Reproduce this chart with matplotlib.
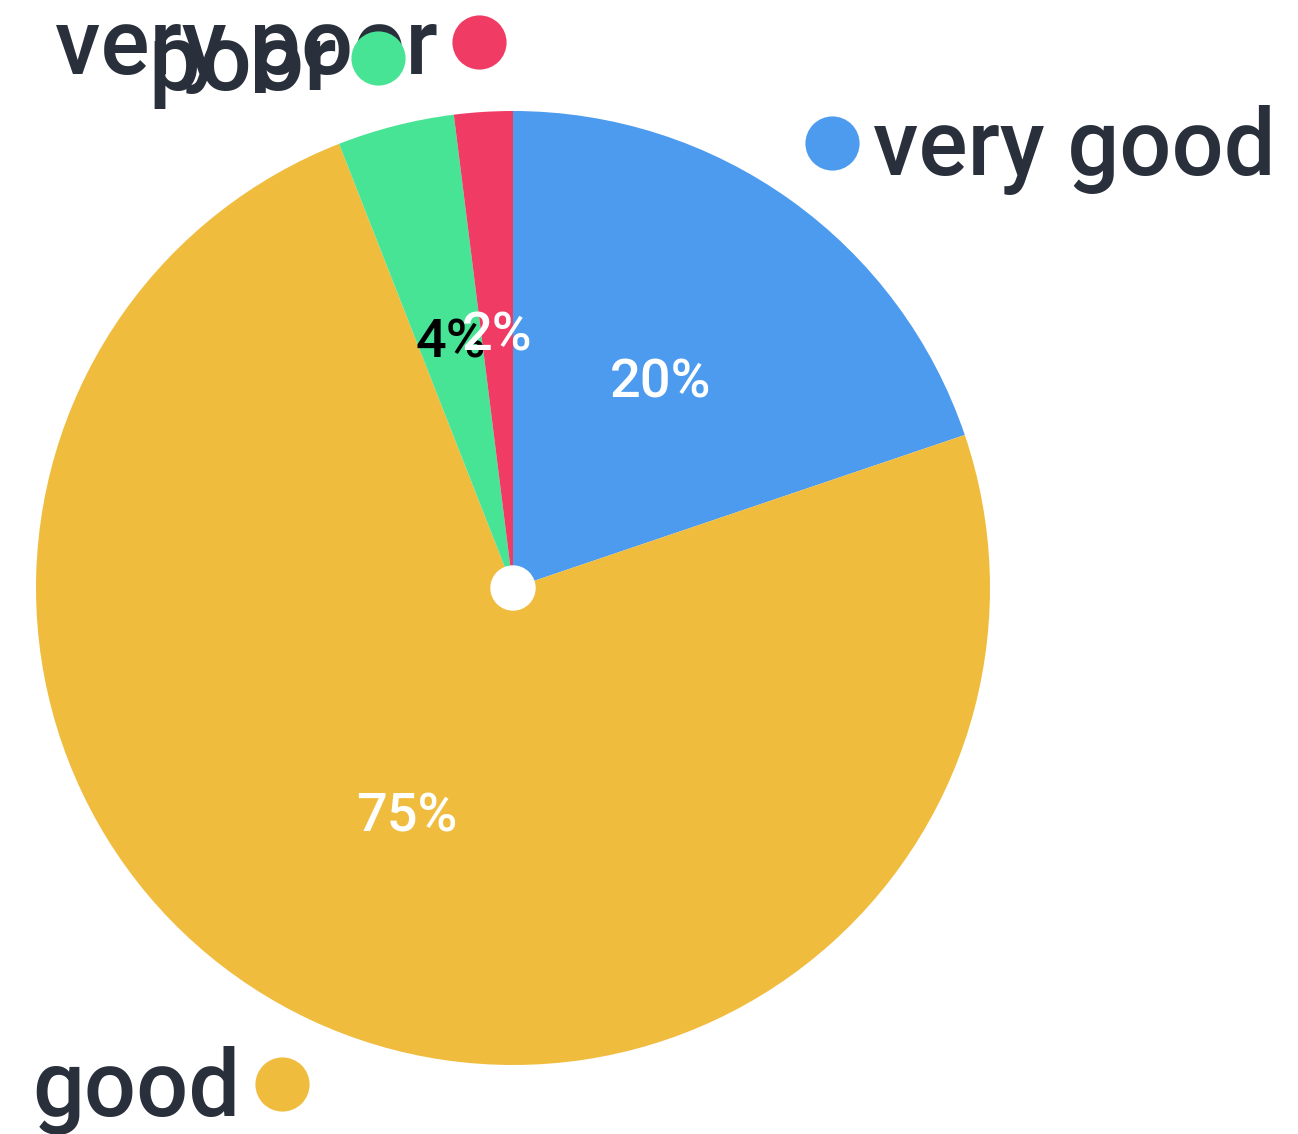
import matplotlib
matplotlib.use("Agg")
import matplotlib.pyplot as plt
import numpy as np

plt.rcParams['font.family'] = ['Roboto', 'DejaVu Sans']

# data (labels show the raw values)
labels = ['very good', 'good', 'poor', 'very poor']
values = [20, 75, 4, 2]
colors = ['#4C9BEE', '#F0BC3E', '#48E495', '#F03C64']
pct_colors = ['white', 'white', 'black', 'white']

W, H = 1298, 1134
fig = plt.figure(figsize=(W / 100, H / 100), dpi=100)
ax = fig.add_axes([0, 0, 1, 1])

total = sum(values)
cx, cy, r = 513, H - 588, 477
wedges, texts, autotexts = ax.pie(values, colors=colors, startangle=90, counterclock=False,
                                  center=(cx, cy), radius=r,
                                  autopct=lambda p: '%.0f%%' % (p * total / 100.0),
                                  pctdistance=0.53,
                                  textprops=dict(fontsize=39, fontweight='medium'),
                                  wedgeprops=dict(linewidth=0))
for t, c in zip(autotexts, pct_colors):
    t.set_color(c)

# pie() resets the limits, so set the pixel frame afterwards
ax.set_xlim(0, W)
ax.set_ylim(0, H)
ax.set_aspect('equal')
ax.axis('off')

# white hub in the middle
ax.add_patch(plt.Circle((cx, cy), 22, color='white', zorder=5))

# outer labels: a dot at each slice midpoint, text on the outer side
for w, lab, col in zip(wedges, labels, colors):
    ang = np.radians((w.theta1 + w.theta2) / 2)
    dx, dy = cx + 1.147 * r * np.cos(ang), cy + 1.147 * r * np.sin(ang)
    ax.plot(dx, dy, 'o', ms=39, color=col, mec='none', zorder=4, clip_on=False)
    right = np.cos(ang) >= 0
    off = 30 if right else -30
    ax.annotate(lab, xy=(dx, dy), xytext=(off, -23), textcoords='offset points',
                ha='left' if right else 'right', va='baseline', fontsize=66,
                fontweight='medium', color='#2A303B', zorder=3)

fig.savefig('out.png', dpi=100)
